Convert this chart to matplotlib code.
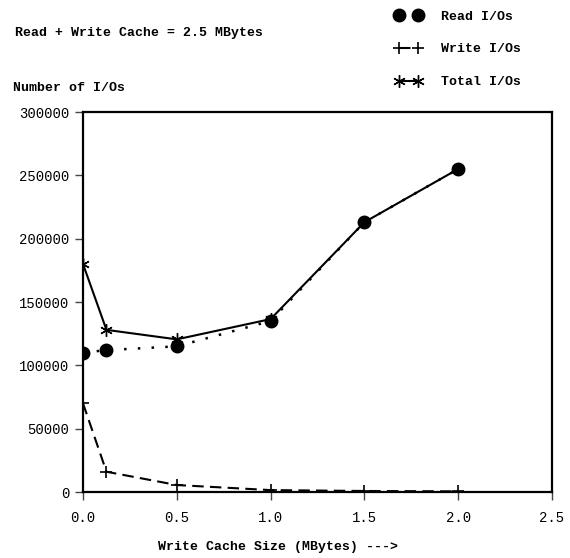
import matplotlib
matplotlib.use("Agg")
from matplotlib import pyplot as plt

# write cache size (MBytes)
cache_mb = [0.0, 0.125, 0.5, 1.0, 1.5, 2.0]
read_ios = [110000, 112000, 115000, 135000, 213000, 255000]
write_ios = [70000, 16000, 5500, 1500, 800, 500]
total_ios = [180000, 128000, 120500, 136500, 213000, 255000]

x_ticks = [0.0, 0.5, 1.0, 1.5, 2.0, 2.5]
y_ticks = [0, 50000, 100000, 150000, 200000, 250000, 300000]

MONO = ['Liberation Mono', 'DejaVu Sans Mono']
FS = 9.5

W, H = 570, 558
fig = plt.figure(figsize=(W / 100, H / 100), dpi=100)
ax = fig.add_axes([83 / W, 1 - 492 / H, (552 - 83) / W, (492 - 112) / H])

ax.plot(cache_mb, read_ios, color='black', lw=1.8, dashes=(1, 4.5),
        marker='o', markersize=9, label='Read I/Os', zorder=3)
ax.plot(cache_mb, write_ios, color='black', lw=1.5, dashes=(5.5, 3),
        marker='+', markersize=9, markeredgewidth=1.2, label='Write I/Os')
ax.plot(cache_mb, total_ios, color='black', lw=1.5,
        marker=(6, 2, 0), markersize=9, markeredgewidth=1.0, label='Total I/Os')

ax.set_xlim(0, 2.5)
ax.set_ylim(0, 300000)
ax.set_xticks(x_ticks)
ax.set_xticklabels(['%.1f' % v for v in x_ticks])
ax.set_yticks(y_ticks)
ax.set_yticklabels([str(v) for v in y_ticks])
for lab in ax.get_xticklabels() + ax.get_yticklabels():
    lab.set_family(MONO)
    lab.set_fontsize(10)
ax.tick_params(direction='out', length=6, width=1, color='#444444', pad=4)
ax.tick_params(axis='x', pad=8)
for sp in ax.spines.values():
    sp.set_linewidth(1.6)

fig.text(15 / W, 1 - 33 / H, 'Read + Write Cache = 2.5 MBytes', family=MONO,
         fontsize=FS, fontweight='bold', va='center', ha='left')
fig.text(13 / W, 1 - 88 / H, 'Number of I/Os', family=MONO,
         fontsize=FS, fontweight='bold', va='center', ha='left')
fig.text(278 / W, 1 - 547 / H, 'Write Cache Size (MBytes) --->', family=MONO,
         fontsize=FS, fontweight='bold', va='center', ha='center')

handles, labels = ax.get_legend_handles_labels()
fig.legend(handles, labels, loc='upper left', bbox_to_anchor=(390 / W, 1 - 5 / H),
           frameon=False, numpoints=2, handlelength=2.0, handletextpad=1.5,
           labelspacing=1.57, borderaxespad=0,
           prop={'family': MONO, 'size': FS, 'weight': 'bold'})

fig.savefig('out.png', dpi=100)
